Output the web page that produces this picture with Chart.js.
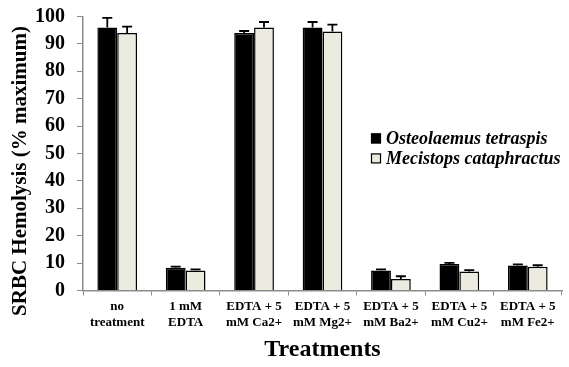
<!DOCTYPE html>
<html>
<head>
<meta charset="utf-8">
<script src="https://cdn.jsdelivr.net/npm/chart.js@4"></script>
<style>
  html, body { margin: 0; padding: 0; background: #fff; }
  #wrap { width: 569px; height: 367px; }
</style>
</head>
<body>
<div id="wrap"><canvas id="myChart"></canvas></div>
<script>
const labels = [
  ['no', 'treatment'],
  ['1 mM', 'EDTA'],
  ['EDTA + 5', 'mM Ca2+'],
  ['EDTA + 5', 'mM Mg2+'],
  ['EDTA + 5', 'mM Ba2+'],
  ['EDTA + 5', 'mM Cu2+'],
  ['EDTA + 5', 'mM Fe2+']
];
const osteoValues = [96, 8.3, 94, 96, 7.3, 9.7, 9.1];
const osteoErrors = [3.5, 0.4, 0.7, 2, 0.4, 0.4, 0.4];
const mecistValues = [94, 7.3, 96, 94.5, 4.2, 6.9, 8.7];
const mecistErrors = [2.3, 0.4, 2, 2.5, 1, 0.5, 0.5];
const yTicks = [0, 10, 20, 30, 40, 50, 60, 70, 80, 90, 100];
const yTitle = 'SRBC Hemolysis (% maximum)';

const serif = "'Liberation Serif', 'Times New Roman', serif";

// error bars, legend and the y title drawn by hand
const extras = {
  id: 'extras',
  afterDatasetsDraw(chart) {
    const ctx = chart.ctx;
    const y = chart.scales.y;
    const errs = [osteoErrors, mecistErrors];
    ctx.save();
    ctx.strokeStyle = '#000';
    ctx.lineWidth = 1.8;
    chart.data.datasets.forEach((ds, i) => {
      chart.getDatasetMeta(i).data.forEach((bar, j) => {
        const top = y.getPixelForValue(ds.data[j]);
        const hi = y.getPixelForValue(ds.data[j] + errs[i][j]);
        ctx.beginPath();
        ctx.moveTo(bar.x, top);
        ctx.lineTo(bar.x, hi);
        ctx.moveTo(bar.x - 5, hi);
        ctx.lineTo(bar.x + 5, hi);
        ctx.stroke();
      });
    });

    // legend
    const area = chart.chartArea;
    const lx = area.left + 288;
    let ly = y.getPixelForValue(55.5);
    ctx.font = 'italic bold 18px ' + serif;
    ctx.textBaseline = 'middle';
    chart.data.datasets.forEach((ds) => {
      ctx.fillStyle = ds.backgroundColor;
      ctx.fillRect(lx, ly - 5, 10, 10);
      ctx.lineWidth = 1.2;
      ctx.strokeRect(lx + 0.5, ly - 4.5, 9, 9);
      ctx.fillStyle = '#000';
      ctx.fillText(ds.label, lx + 15, ly + 1);
      ly += 20;
    });

    // y title
    ctx.translate(21, 171);
    ctx.rotate(-Math.PI / 2);
    ctx.font = 'bold 21px ' + serif;
    ctx.textAlign = 'center';
    ctx.textBaseline = 'middle';
    ctx.fillText(yTitle, 0, 0);
    ctx.restore();
  }
};

window.addEventListener('DOMContentLoaded', () => {
  const ctx = document.getElementById('myChart').getContext('2d');

  const config = {
    type: 'bar',
    data: {
      labels,
      datasets: [
        {
          label: 'Osteolaemus tetraspis',
          data: osteoValues,
          backgroundColor: '#000000',
          borderColor: '#000000',
          borderWidth: 1.5
        },
        {
          label: 'Mecistops cataphractus',
          data: mecistValues,
          backgroundColor: '#ebebdf',
          borderColor: '#000000',
          borderWidth: 1.5
        }
      ]
    },
    options: {
      responsive: true,
      maintainAspectRatio: false,
      animation: false,
      layout: { padding: { top: 0, right: 7, left: 23, bottom: 3 } },
      datasets: {
        bar: { barPercentage: 1, categoryPercentage: 0.58 }
      },
      plugins: {
        legend: { display: false },
        tooltip: { enabled: false }
      },
      scales: {
        x: {
          grid: { drawOnChartArea: false, drawTicks: true, tickLength: 5, color: '#8c8c8c', offset: true },
          border: { color: '#8c8c8c', width: 1.5 },
          ticks: {
            color: '#000',
            maxRotation: 0,
            autoSkip: false,
            padding: 3,
            font: { family: serif, weight: 'bold', size: 13, lineHeight: 1.22 }
          },
          title: {
            display: true,
            text: 'Treatments',
            color: '#000',
            padding: { top: 2, bottom: 0 },
            font: { family: serif, weight: 'bold', size: 24 }
          }
        },
        y: {
          min: 0,
          max: 100,
          afterBuildTicks: (axis) => { axis.ticks = yTicks.map(v => ({ value: v })); },
          grid: { drawOnChartArea: false, drawTicks: true, tickLength: 6, color: '#8c8c8c' },
          border: { color: '#8c8c8c', width: 1.5 },
          ticks: {
            color: '#000',
            autoSkip: false,
            padding: 12,
            font: { family: serif, weight: 'bold', size: 20, lineHeight: 0.45 }
          }
        }
      }
    },
    plugins: [extras]
  };

  const myChart = new Chart(ctx, config);
});
</script>
</body>
</html>
